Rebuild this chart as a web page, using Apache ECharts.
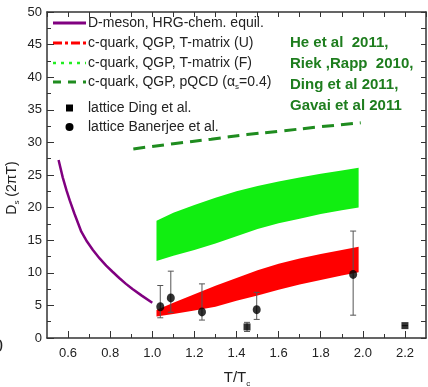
<!DOCTYPE html>
<html>
<head>
<meta charset="utf-8">
<script src="https://cdn.jsdelivr.net/npm/echarts@6/dist/echarts.min.js"></script>
<style>html,body{margin:0;padding:0;background:#fff}#main{width:428px;height:387px}</style>
</head>
<body>
<div id="main"></div>
<script>
// D-meson, HRG chem. equil.
var dMeson = [[0.555,27.3],[0.575,24.6],[0.593,22.6],[0.608,21.1],[0.63,19.1],[0.663,16.3],[0.69,14.8],
    [0.718,13.5],[0.75,12.2],[0.781,11.1],[0.81,10.2],[0.843,9.2],[0.875,8.3],[0.906,7.5],[0.95,6.5],[1.0,5.4]];
// pQCD
var pqcd = [[0.91,29.0],[1.1,29.8],[1.28,30.5],[1.45,31.2],[1.6,31.7],[1.8,32.4],[1.99,33.0]];
// T-matrix bands
var bandX  = [1.02, 1.1, 1.2, 1.3, 1.4, 1.5, 1.6, 1.7, 1.8, 1.9, 1.98];
var fUpper = [18.0, 19.2, 20.4, 21.5, 22.5, 23.3, 24.0, 24.6, 25.2, 25.7, 26.1];
var fLower = [11.8, 12.6, 13.5, 14.5, 15.6, 16.7, 17.6, 18.3, 19.0, 19.6, 20.0];
var uUpper = [4.3, 5.4, 6.7, 8.0, 9.2, 10.4, 11.4, 12.2, 12.9, 13.5, 14.0];
var uLower = [3.3, 3.7, 4.2, 4.8, 5.7, 6.5, 7.4, 8.2, 8.9, 9.6, 10.1];
// lattice points [x, y, low, high]
var banerjee = [[1.038,4.8,3.1,8.05],[1.088,6.15,3.95,10.25],[1.236,4.0,2.75,8.3],[1.496,4.35,2.85,7.0],[1.954,9.75,3.5,16.4]];
var ding = [[1.45,1.7,1.0,2.4],[2.2,1.9,1.9,1.9]];
var xMajor = [0.6,0.8,1.0,1.2,1.4,1.6,1.8,2.0,2.2];
var xMinor = [0.7,0.9,1.1,1.3,1.5,1.7,1.9,2.1];

var myChart = echarts.init(document.getElementById('main'));
var axisColor = '#333';
var font = 'Liberation Sans, Arial, sans-serif';

function band(lower, upper, color) {
    return {
        type: 'custom', data: [0], clip: false, z: 1,
        renderItem: function (params, api) {
            var pts = [];
            for (var i = 0; i < bandX.length; i++) pts.push(api.coord([bandX[i], upper[i]]));
            for (var j = bandX.length - 1; j >= 0; j--) pts.push(api.coord([bandX[j], lower[j]]));
            return {type: 'polygon', shape: {points: pts}, style: {fill: color}};
        }
    };
}
function errBars(pts) {
    return {
        type: 'custom', data: pts, encode: {x: 0, y: [2, 3]}, z: 3,
        renderItem: function (params, api) {
            var x = api.value(0);
            var lo = api.coord([x, api.value(2)]), hi = api.coord([x, api.value(3)]);
            var st = {stroke: '#555', lineWidth: 1};
            return {type: 'group', children: [
                {type: 'line', shape: {x1: lo[0], y1: lo[1], x2: hi[0], y2: hi[1]}, style: st},
                {type: 'line', shape: {x1: lo[0]-3, y1: lo[1], x2: lo[0]+3, y2: lo[1]}, style: st},
                {type: 'line', shape: {x1: hi[0]-3, y1: hi[1], x2: hi[0]+3, y2: hi[1]}, style: st}
            ]};
        }
    };
}

var legendRows = [
    {y: 23, text: 'D-meson, HRG-chem. equil.', stroke: '#800080', dash: null, w: 3},
    {y: 43, text: 'c-quark, QGP, T-matrix (U)', stroke: '#ff0000', dash: [9,3,3,3], w: 3},
    {y: 63, text: 'c-quark, QGP, T-matrix (F)', stroke: '#22ee22', dash: [3,5], w: 2.5},
    {y: 82, text: 'c-quark, QGP, pQCD ({g|α}{s|s}=0.4)', stroke: '#1f8c1f', dash: [8,7], w: 3}
];
var graphics = [];
legendRows.forEach(function (r) {
    graphics.push({type: 'line', shape: {x1: 53, y1: r.y, x2: 86, y2: r.y},
        style: {stroke: r.stroke, lineWidth: r.w, lineDash: r.dash}});
    graphics.push({type: 'text', x: 88, y: r.y, style: {text: r.text, font: '14px ' + font, fill: '#222',
        textVerticalAlign: 'middle', rich: {g: {font: '14px ' + font, fill: '#222'}, s: {font: '8px ' + font, fill: '#222', padding: [10,0,0,0]}}}});
});
graphics.push({type: 'rect', shape: {x: 66, y: 104.5, width: 7, height: 7}, style: {fill: '#000'}});
graphics.push({type: 'text', x: 88, y: 108, style: {text: 'lattice Ding et al.', font: '14px ' + font, fill: '#222', textVerticalAlign: 'middle'}});
graphics.push({type: 'circle', shape: {cx: 69.5, cy: 127, r: 4}, style: {fill: '#000'}});
graphics.push({type: 'text', x: 88, y: 127, style: {text: 'lattice Banerjee et al.', font: '14px ' + font, fill: '#222', textVerticalAlign: 'middle'}});
graphics.push({type: 'text', x: 290, y: 32.5, style: {text: 'He et al  2011,\nRiek ,Rapp  2010,\nDing et al 2011,\nGavai et al 2011',
    font: 'bold 15px ' + font, fill: '#1e7d1e', lineHeight: 21, textVerticalAlign: 'top'}});
graphics.push({type: 'text', x: 12, y: 188, rotation: Math.PI / 2, style: {text: 'D{s|s} (2πT)', font: '14px ' + font, fill: '#222',
    textAlign: 'center', textVerticalAlign: 'middle', rich: {s: {font: '8px ' + font, fill: '#222', padding: [10,0,0,0]}}}});
graphics.push({type: 'text', x: 237, y: 378, style: {text: 'T/T{s|c}', font: '15px ' + font, fill: '#222',
    textAlign: 'center', textVerticalAlign: 'middle', rich: {s: {font: '8px ' + font, fill: '#222', padding: [12,0,0,0]}}}});
graphics.push({type: 'text', x: 3, y: 347, style: {text: '0', font: '18px ' + font, fill: '#222', textAlign: 'right', textVerticalAlign: 'middle'}});

option = {
    animation: false,
    grid: {left: 47, right: 2, top: 12, bottom: 49},
    xAxis: [
        {type: 'value', min: 0.5, max: 2.3, position: 'bottom',
         axisLine: {lineStyle: {color: axisColor, width: 1.5}},
         axisTick: {inside: true, length: 7, customValues: xMajor, lineStyle: {color: axisColor}},
         axisLabel: {customValues: xMajor, margin: 9, color: '#222', fontSize: 13, fontFamily: font,
             formatter: function (v) { return v.toFixed(1); }},
         splitLine: {show: false}},
        {type: 'value', min: 0.5, max: 2.3, position: 'bottom',
         axisLine: {show: false},
         axisTick: {inside: true, length: 4, customValues: xMinor, lineStyle: {color: axisColor}},
         axisLabel: {show: false}, splitLine: {show: false}},
        {type: 'value', min: 0.5, max: 2.3, interval: 0.1, position: 'top',
         axisLine: {lineStyle: {color: axisColor, width: 1.5}},
         axisTick: {inside: true, length: 5, lineStyle: {color: axisColor}},
         axisLabel: {show: false}, splitLine: {show: false}}
    ],
    yAxis: [
        {type: 'value', min: 0, max: 50, interval: 5, position: 'left',
         axisLine: {show: true, lineStyle: {color: axisColor, width: 1.5}},
         axisTick: {show: true, inside: true, length: 7, lineStyle: {color: axisColor}},
         minorTick: {show: true, splitNumber: 2, length: 4, lineStyle: {color: axisColor}},
         axisLabel: {margin: 5, color: '#222', fontSize: 13, fontFamily: font},
         splitLine: {show: false}},
        {type: 'value', min: 0, max: 50, interval: 2.5, position: 'right',
         axisLine: {show: true, lineStyle: {color: axisColor, width: 1.5}},
         axisTick: {show: true, inside: true, length: 5, lineStyle: {color: axisColor}},
         axisLabel: {show: false}, splitLine: {show: false}}
    ],
    graphic: graphics,
    series: [
        band(fLower, fUpper, '#11ee11'),
        band(uLower, uUpper, '#ff0000'),
        {type: 'line', data: dMeson, showSymbol: false, z: 2, lineStyle: {color: '#800080', width: 2.5}},
        {type: 'line', data: pqcd, showSymbol: false, smooth: true, z: 2, lineStyle: {color: '#1f8c1f', width: 3, type: [12, 7]}},
        errBars(banerjee),
        errBars(ding),
        {type: 'scatter', data: banerjee, symbol: 'circle', symbolSize: [8, 9], z: 4, itemStyle: {color: '#000'}},
        {type: 'scatter', data: ding, symbol: 'rect', symbolSize: 7, z: 4, itemStyle: {color: '#000'}}
    ]
};
myChart.setOption(option);
</script>
</body>
</html>
